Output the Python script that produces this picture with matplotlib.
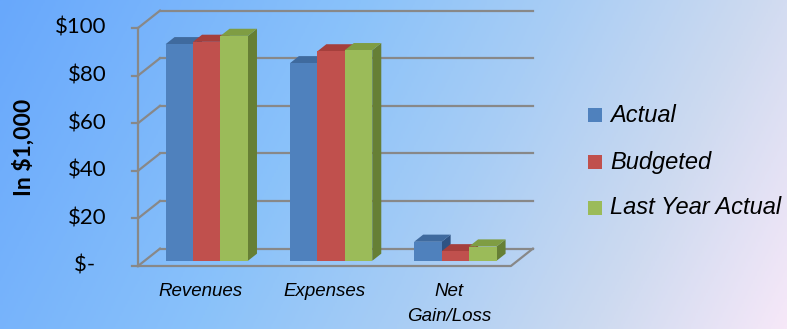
import numpy as np
import matplotlib
matplotlib.use("Agg")
import matplotlib.pyplot as plt
from matplotlib.patches import Polygon, Rectangle
from matplotlib.colors import LinearSegmentedColormap

# ---- data -------------------------------------------------------------
categories = ["Revenues", "Expenses", "Net\nGain/Loss"]
series_names = ["Actual", "Budgeted", "Last Year Actual"]
actual = [91, 83, 8]
budgeted = [92, 88, 4]
last_year_actual = [94.5, 88.5, 6]
tick_values = [0, 20, 40, 60, 80, 100]
tick_labels = ["$-  ", "$20", "$40", "$60", "$80", "$100"]
y_label = "In $1,000"

series_values = [actual, budgeted, last_year_actual]

# front / top / side shades for each series
face_colors = ["#4f81bd", "#c0504d", "#9bbb59"]
top_colors = ["#3f6a9e", "#a53f3c", "#7f9d43"]
side_colors = ["#2f5383", "#8a3230", "#667f35"]

# ---- oblique projection parameters ----------------------------------
DX = 0.177   # horizontal shift (category units) for full depth
DY = 7.3     # vertical shift (value units) for full depth
BAR_W = 0.221
D_FRONT, D_BACK = 0.30, 0.71
GRID = "#888888"


def proj(cx, v, d):
    return (cx + d * DX, v + d * DY)


W, H = 787, 329
fig = plt.figure(figsize=(W / 100, H / 100), dpi=100)

# background gradient
bg = fig.add_axes([0, 0, 1, 1], zorder=0)
bg.set_axis_off()
xx, yy = np.meshgrid(np.linspace(0, W, 400), np.linspace(0, H, 200))
t = (xx + 0.5 * yy) / (W + 0.5 * H)
cmap = LinearSegmentedColormap.from_list(
    "bg",
    [(0.0, (104/255, 168/255, 252/255)),
     (0.38, (138/255, 194/255, 250/255)),
     (0.59, (168/255, 205/255, 245/255)),
     (0.80, (205/255, 218/255, 240/255)),
     (1.0, (246/255, 232/255, 248/255))])
bg.imshow(t, cmap=cmap, vmin=0, vmax=1, aspect="auto",
          extent=[0, W, H, 0], interpolation="bilinear")
bg.set_xlim(0, W)
bg.set_ylim(H, 0)

# main chart axes, data units: x = category position, y = value
ax = fig.add_axes([0, 0, 1, 1], zorder=1)
ax.set_axis_off()
ax.patch.set_alpha(0)
px_per_cat = 124.3
px_per_val = 2.38
x0_px, y0_px = 138, 266
ax.set_xlim(-x0_px / px_per_cat, (W - x0_px) / px_per_cat)
ax.set_ylim((y0_px - H) / px_per_val, y0_px / px_per_val)

n_cat = len(categories)
vmax = tick_values[-1]

# walls and gridlines
for v, lab in zip(tick_values, tick_labels):
    p0, p1 = proj(0, v, 1), proj(n_cat, v, 1)
    ax.plot([p0[0], p1[0]], [p0[1], p1[1]], color=GRID, lw=1.6, zorder=2)
    q0, q1 = proj(0, v, 0), proj(0, v, 1)
    ax.plot([q0[0], q1[0]], [q0[1], q1[1]], color=GRID, lw=1.6, zorder=2)
    t0 = proj(-0.05, v, 0)
    ax.plot([t0[0], q0[0]], [t0[1], q0[1]], color=GRID, lw=1.6, zorder=2)
    ax.text(t0[0] - 0.2, v, lab, ha="right", va="center", fontsize=16,
            family="Lato", zorder=3)

a0, a1 = proj(0, 0, 0), proj(0, vmax, 0)
ax.plot([a0[0], a1[0]], [a0[1], a1[1]], color=GRID, lw=1.6, zorder=2)
f0, f1, f2 = proj(0, 0, 0), proj(n_cat, 0, 0), proj(n_cat, 0, 1)
ax.plot([f0[0], f1[0], f2[0]], [f0[1], f1[1], f2[1]], color=GRID, lw=1.6, zorder=2)

# 3-D bars
n_ser = len(series_values)
for i in range(n_cat):
    left = i + 0.5 - n_ser * BAR_W / 2
    for s in range(n_ser):
        v = series_values[s][i]
        xl, xr = left + s * BAR_W, left + (s + 1) * BAR_W
        z = 4 + i * n_ser + s
        front = [proj(xl, 0, D_FRONT), proj(xr, 0, D_FRONT),
                 proj(xr, v, D_FRONT), proj(xl, v, D_FRONT)]
        top = [proj(xl, v, D_FRONT), proj(xr, v, D_FRONT),
               proj(xr, v, D_BACK), proj(xl, v, D_BACK)]
        side = [proj(xr, 0, D_FRONT), proj(xr, 0, D_BACK),
                proj(xr, v, D_BACK), proj(xr, v, D_FRONT)]
        ax.add_patch(Polygon(side, closed=True, fc=side_colors[s], ec="none", zorder=z))
        ax.add_patch(Polygon(top, closed=True, fc=top_colors[s], ec="none", zorder=z))
        ax.add_patch(Polygon(front, closed=True, fc=face_colors[s], ec="none", zorder=z))

# category labels
for i, c in enumerate(categories):
    ax.text(i + 0.5, -7.3, c, ha="center", va="top", fontsize=13.5,
            family="Liberation Sans", style="italic", linespacing=1.55, zorder=3)

# y-axis title
fig.text(24 / W, 1 - 147 / H, y_label, rotation=90, ha="center", va="center",
         fontsize=16.5, family="Lato", weight="bold")

# legend
leg_rows = [115, 162, 208]
for s, name in enumerate(series_names):
    yc = leg_rows[s]
    fig.patches.append(Rectangle((588 / W, 1 - (yc + 7) / H), 14 / W, 14 / H,
                                 transform=fig.transFigure, fc=face_colors[s],
                                 ec="none", figure=fig))
    fig.text(610 / W, 1 - yc / H, name, ha="left", va="center", fontsize=17,
             family="Liberation Sans", style="italic")

fig.savefig("out.png", dpi=100)
